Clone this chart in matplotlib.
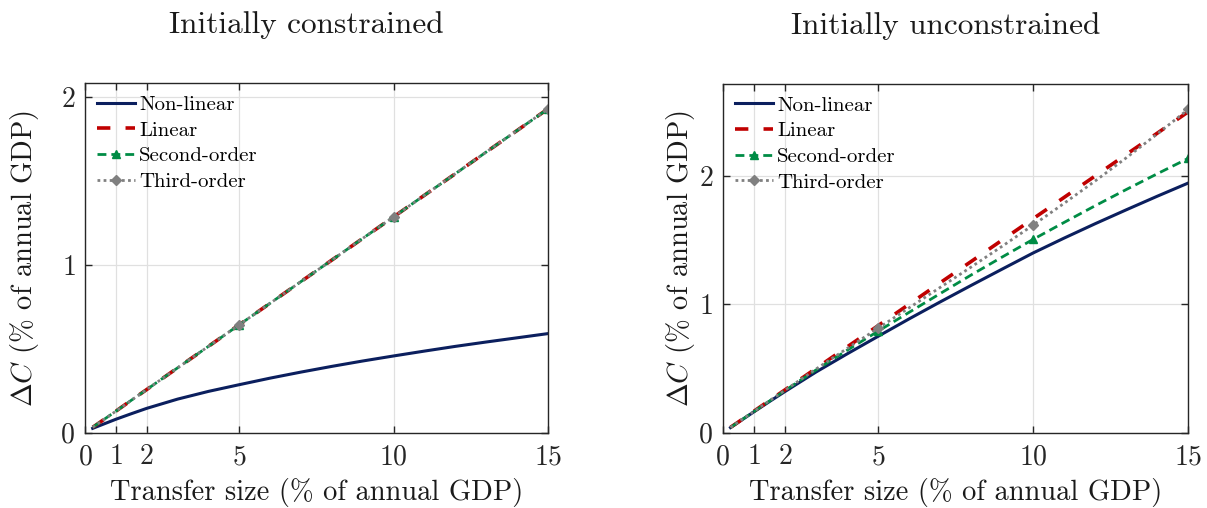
import numpy as np
import matplotlib
matplotlib.use("Agg")
import matplotlib.pyplot as plt

plt.rcParams['font.family'] = 'serif'
plt.rcParams['font.serif'] = ['cmr10', 'DejaVu Serif']
plt.rcParams['mathtext.fontset'] = 'cm'
plt.rcParams['axes.formatter.use_mathtext'] = True
plt.rcParams['axes.unicode_minus'] = False

# Transfer size (% of annual GDP)
transfer = [0.25, 0.5, 1, 1.5, 2, 3, 4, 5, 6, 7, 8, 9, 10, 11, 12, 13, 14, 15]

# Initially constrained
con_nonlinear = [0.026, 0.044, 0.08, 0.113, 0.145, 0.2, 0.246, 0.286, 0.325, 0.361,
                 0.395, 0.427, 0.457, 0.486, 0.514, 0.54, 0.565, 0.59]
con_linear = [0.032, 0.064, 0.128, 0.193, 0.257, 0.386, 0.514, 0.643, 0.771, 0.9,
              1.028, 1.157, 1.285, 1.414, 1.542, 1.671, 1.799, 1.928]
con_second = [0.032, 0.064, 0.128, 0.193, 0.257, 0.386, 0.514, 0.643, 0.771, 0.9,
              1.028, 1.157, 1.285, 1.414, 1.542, 1.671, 1.799, 1.928]
con_third = [0.032, 0.064, 0.128, 0.193, 0.257, 0.386, 0.514, 0.643, 0.771, 0.9,
             1.028, 1.157, 1.285, 1.414, 1.542, 1.671, 1.799, 1.928]

# Initially unconstrained
unc_nonlinear = [0.04, 0.081, 0.162, 0.242, 0.32, 0.472, 0.613, 0.75, 0.886, 1.018,
                 1.147, 1.274, 1.4, 1.516, 1.628, 1.736, 1.842, 1.945]
unc_linear = [0.042, 0.083, 0.167, 0.25, 0.333, 0.5, 0.667, 0.833, 1.0, 1.167,
              1.333, 1.5, 1.667, 1.833, 2.0, 2.167, 2.333, 2.5]
unc_second = [0.041, 0.082, 0.164, 0.246, 0.328, 0.488, 0.641, 0.79, 0.937, 1.083,
              1.228, 1.368, 1.506, 1.638, 1.768, 1.894, 2.017, 2.137]
unc_third = [0.041, 0.083, 0.166, 0.248, 0.33, 0.495, 0.655, 0.813, 0.972, 1.131,
             1.29, 1.452, 1.617, 1.787, 1.961, 2.141, 2.327, 2.519]

titles = ['Initially constrained', 'Initially unconstrained']
ylims = [2.08, 2.716]
xticks = [0, 1, 2, 5, 10, 15]
yticks = [0, 1, 2]
mark_idx = [7, 12, 17]
ylabel_x = [-0.096, -0.055]

c_nl = '#0b1f5e'
c_lin = '#c00000'
c_sec = '#008c45'
c_thr = '#808080'
c_txt = '#1a1a1a'

fig = plt.figure(figsize=(12.07, 5.08), dpi=100)
ax1 = fig.add_axes([0.0704, 0.1482, 0.3836, 0.6878])
ax2 = fig.add_axes([0.5988, 0.1482, 0.3857, 0.6864])

panels = [
    (ax1, con_nonlinear, con_linear, con_second, con_third),
    (ax2, unc_nonlinear, unc_linear, unc_second, unc_third),
]

for i, (ax, nl, lin, sec, thr) in enumerate(panels):
    ax.plot(transfer, nl, color=c_nl, lw=2.2, label='Non-linear')
    ax.plot(transfer, lin, color=c_lin, lw=2.6, dashes=(3.7, 4.2), label='Linear')
    ax.plot(transfer, sec, color=c_sec, lw=2.0, dashes=(3.2, 1.8),
            marker='^', markersize=6, markevery=mark_idx, label='Second-order')
    ax.plot(transfer, thr, color=c_thr, lw=2.0, linestyle=(0, (1, 1.2)),
            marker='D', markersize=5, markevery=mark_idx, label='Third-order')

    ax.set_xlim(0, 15)
    ax.set_ylim(0, ylims[i])
    ax.set_xticks(xticks)
    ax.set_yticks(yticks)
    ax.grid(True, color='#e0e0e0', lw=0.9)
    ax.set_axisbelow(True)
    ax.tick_params(direction='in', top=True, right=True, labelsize=20,
                   length=5, width=1, colors='#262626')
    ax.tick_params(axis='x', pad=8)
    ax.tick_params(axis='y', pad=7)
    for sp in ax.spines.values():
        sp.set_color('#262626')
        sp.set_linewidth(1.0)
    ax.set_title(titles[i], fontsize=22.5, pad=36, color=c_txt, x=0.478)
    ax.set_xlabel('Transfer size (% of annual GDP)', fontsize=20.5, color=c_txt)
    ax.set_ylabel(r'$\Delta C$ (% of annual GDP)', fontsize=20.5, color=c_txt)
    ax.xaxis.set_label_coords(0.5, -0.131)
    ax.yaxis.set_label_coords(ylabel_x[i], 0.5)
    ax.legend(loc='upper left', frameon=False, fontsize=15, handlelength=1.83,
              handletextpad=0.2, labelspacing=0.34, borderpad=0.2,
              borderaxespad=0.38)

fig.savefig('out.png', dpi=100)
